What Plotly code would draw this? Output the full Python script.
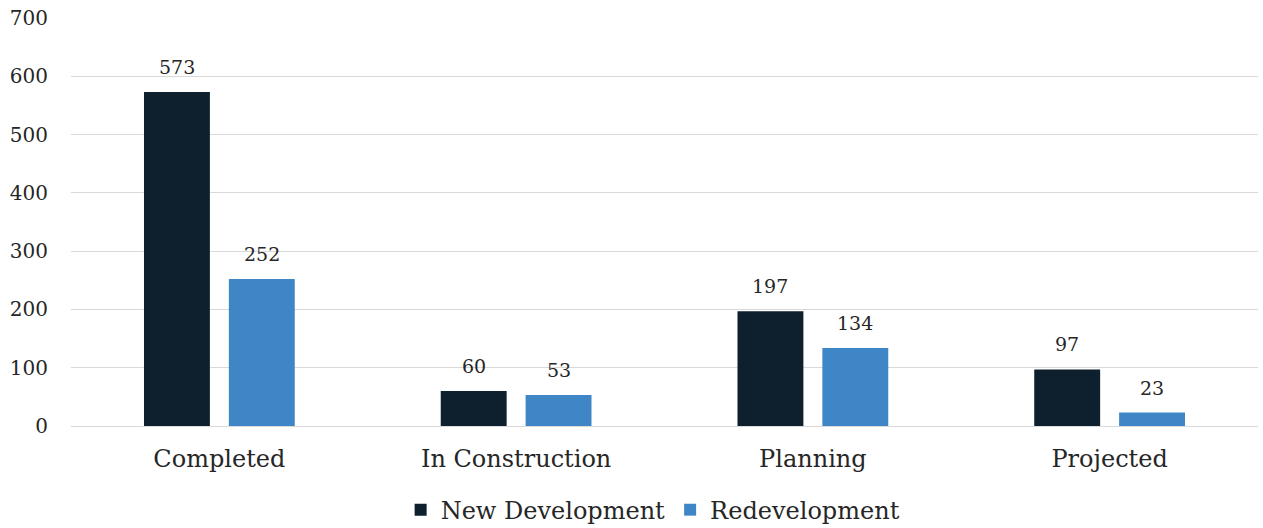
import plotly.graph_objects as go

categories = ["Completed", "In Construction", "Planning", "Projected"]
new_development = [573, 60, 197, 97]
redevelopment = [252, 53, 134, 23]
y_ticks = [0, 100, 200, 300, 400, 500, 600, 700]

FONT = "DejaVu Serif"
TEXT = "#262626"
SERIES = [
    ("New Development", new_development, "#0E1F2E", -42.5),
    ("Redevelopment", redevelopment, "#3F86C6", 42.5),
]

fig = go.Figure()
for name, values, color, shift in SERIES:
    fig.add_trace(go.Bar(
        name=name, x=categories, y=values,
        marker=dict(color=color, line=dict(width=0)),
    ))
    # value labels above each bar
    for cat, v in zip(categories, values):
        fig.add_annotation(
            x=cat, y=v, xref="x", yref="y", text=str(v), showarrow=False,
            xshift=shift, yshift=12, yanchor="bottom",
            font=dict(family=FONT, size=19, color=TEXT),
        )

fig.update_layout(
    width=1263, height=528,
    margin=dict(l=71, r=5, t=18, b=102, autoexpand=False),
    paper_bgcolor="white", plot_bgcolor="white",
    barmode="group", bargap=0.428, bargroupgap=0.2235,
    font=dict(family=FONT, size=20, color=TEXT),
    showlegend=True,
    legend=dict(orientation="h", x=0.49, xanchor="center", y=-0.206, yanchor="middle",
                font=dict(family=FONT, size=24, color=TEXT),
                itemwidth=30, tracegroupgap=0),
    xaxis=dict(showgrid=False, showline=True, linecolor="#d9d9d9", linewidth=1,
               ticks="", ticklabelstandoff=11,
               tickfont=dict(family=FONT, size=24, color=TEXT)),
    yaxis=dict(range=[0, 700], tickvals=y_ticks, showgrid=True, gridcolor="#d9d9d9",
               gridwidth=1, zeroline=False, ticks="", ticklabelstandoff=22,
               tickfont=dict(family=FONT, size=20, color=TEXT)),
)

fig.write_html("out.html")
